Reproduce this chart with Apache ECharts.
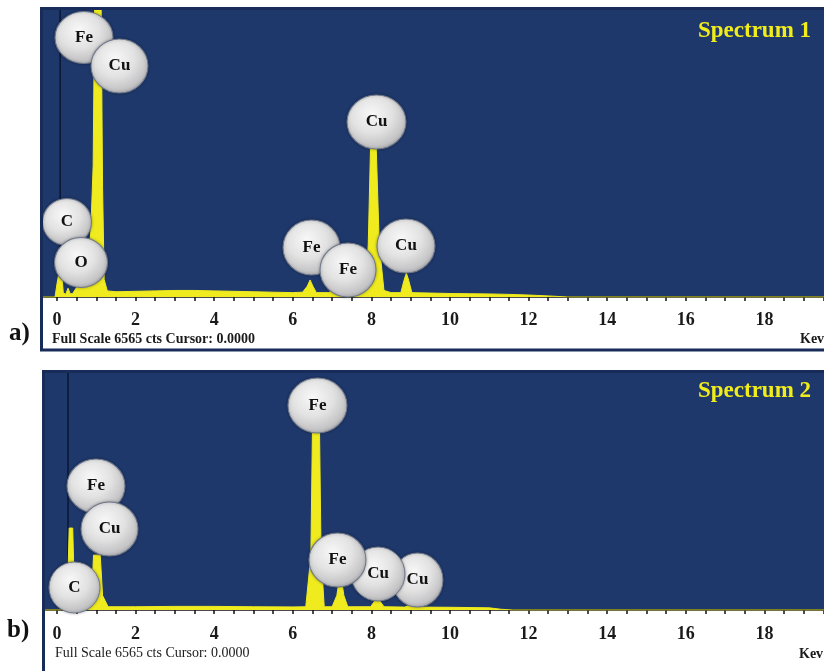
<!DOCTYPE html>
<html>
<head>
<meta charset="utf-8">
<script src="https://cdn.jsdelivr.net/npm/echarts@6/dist/echarts.min.js"></script>
<style>
html,body{margin:0;padding:0;background:#ffffff;}
#chart{width:824px;height:671px;}
</style>
</head>
<body>
<div id="chart"></div>
<script>
// ---------------- DATA ----------------
const keVTickLabels = [0, 2, 4, 6, 8, 10, 12, 14, 16, 18];
const fullScaleCts = 6565;
const panelTitles = ['Spectrum 1', 'Spectrum 2'];
const panelTags = ['a)', 'b)'];
const footerText = 'Full Scale 6565 cts Cursor: 0.0000';
const unitText = 'Kev';

// spectrum 1 : [keV, counts]
const spectrum1 = [
  [-0.36, 0], [-0.05, 0], [0.0, 300], [0.05, 550], [0.12, 550], [0.16, 100],
  [0.22, 60], [0.28, 200], [0.34, 70], [0.4, 80], [0.52, 250], [0.6, 300],
  [0.72, 500], [0.8, 800], [0.86, 1500], [0.92, 3000], [0.96, 7000], [1.12, 7000],
  [1.16, 2500], [1.2, 400], [1.28, 140], [1.5, 120], [2.0, 130], [2.5, 140],
  [3.0, 150], [3.5, 150], [4.0, 140], [4.5, 130], [5.0, 120], [5.5, 110],
  [6.0, 100], [6.25, 110], [6.37, 250], [6.44, 390], [6.51, 250], [6.6, 100],
  [6.9, 100], [7.06, 160], [7.2, 100], [7.7, 110], [7.85, 150], [7.92, 1200],
  [7.98, 3500], [8.12, 3500], [8.2, 1200], [8.32, 150], [8.5, 100], [8.75, 100],
  [8.83, 380], [8.89, 550], [8.95, 380], [9.03, 100], [9.5, 90], [10.0, 80],
  [10.5, 75], [11.0, 70], [11.5, 60], [12.0, 45], [12.5, 25], [13.0, 0], [19.52, 0]
];

// spectrum 2 : [keV, counts]
const spectrum2 = [
  [-0.31, 0], [0.1, 0], [0.18, 60], [0.26, 200], [0.31, 2270], [0.4, 2270],
  [0.45, 200], [0.52, 70], [0.65, 70], [0.76, 90], [0.88, 300], [0.93, 1520],
  [1.1, 1520], [1.16, 400], [1.3, 90], [2.0, 90], [3.0, 100], [4.0, 100],
  [5.0, 90], [6.0, 85], [6.33, 90], [6.46, 1500], [6.5, 5000], [6.68, 5000],
  [6.72, 1500], [6.8, 90], [7.0, 90], [7.12, 400], [7.17, 750], [7.25, 750],
  [7.3, 400], [7.4, 90], [7.98, 90], [8.15, 350], [8.32, 90], [8.85, 80],
  [9.0, 150], [9.12, 80], [10.0, 75], [11.0, 60], [11.3, 20], [11.6, 0], [19.52, 0]
];

// element tags: [element, keV, counts]  (listed in drawing order)
const markers1 = [
  ['C', 0.254, 1716], ['O', 0.611, 789], ['Fe', 0.687, 5936], ['Cu', 1.59, 5284],
  ['Fe', 6.476, 1132], ['Fe', 7.405, 618], ['Cu', 8.13, 4003], ['Cu', 8.88, 1167]
];
const markers2 = [
  ['C', 0.445, 623], ['Fe', 0.992, 3435], ['Cu', 1.336, 2244], ['Fe', 6.628, 5665],
  ['Cu', 9.173, 831], ['Cu', 8.168, 997], ['Fe', 7.137, 1385]
];

// zero-strobe line position (keV)
const strobeKeV = [0.08, 0.28];

// ---------------- STYLE ----------------
const SERIF = '"Liberation Serif", "DejaVu Serif", serif';
const BG = '#1e386b';
const FRAME = '#172c58';
const YELLOW = '#efeb1e';
const markerSizes1 = [[49, 47], [53, 50], [58, 52], [57, 54], [57, 55], [56, 54], [59, 54], [58, 54]];
const markerSizes2 = [[51, 51], [58, 54], [57, 54], [59, 55], [51, 54], [54, 54], [57, 54]];

const minorTicks = [];
for (let v = 0; v <= 19.5; v += 0.5) minorTicks.push(v);

const grids = [
  { left: 43, top: 10, width: 781, height: 287, show: true, backgroundColor: BG, borderWidth: 0 },
  { left: 45, top: 373, width: 779, height: 237, show: true, backgroundColor: BG, borderWidth: 0 }
];
const xMins = [-0.3562, -0.3053];
const labelMargins = [14, 15];

const xAxes = grids.map((g, i) => ({
  type: 'value', gridIndex: i, min: xMins[i], max: 19.517,
  axisLine: { show: true, onZero: false, lineStyle: { color: '#111', width: 1.5 } },
  axisTick: { show: true, customValues: minorTicks, length: 4, lineStyle: { color: '#111', width: 1.5 } },
  axisLabel: { show: true, customValues: keVTickLabels, margin: labelMargins[i], fontFamily: SERIF,
               fontWeight: 'bold', fontSize: 18, color: '#1a1a1a' },
  splitLine: { show: false }
}));
const yAxes = grids.map((g, i) => ({
  type: 'value', gridIndex: i, min: 0, max: fullScaleCts, show: false,
  splitLine: { show: false }
}));

function strobeSeries(i) {
  return {
    type: 'line', xAxisIndex: i, yAxisIndex: i, silent: true, symbol: 'none', z: 1,
    data: [[strobeKeV[i], 0], [strobeKeV[i], fullScaleCts]],
    lineStyle: { color: '#0b1631', width: 1.5 }
  };
}
function spectrumSeries(i, data) {
  return {
    type: 'line', xAxisIndex: i, yAxisIndex: i, silent: true, symbol: 'none', z: 2,
    clip: true, data: data,
    lineStyle: { color: YELLOW, width: 1 },
    areaStyle: { color: YELLOW, opacity: 1 }
  };
}
function markerSeries(i, markers, sizes) {
  return {
    type: 'scatter', xAxisIndex: i, yAxisIndex: i, silent: true, z: 5, clip: false,
    data: markers.map((m, k) => ({
      name: m[0], value: [m[1], m[2]], symbolSize: sizes[k]
    })),
    symbol: 'circle',
    itemStyle: {
      opacity: 1,
      color: { type: 'radial', x: 0.42, y: 0.36, r: 0.68,
        colorStops: [{ offset: 0, color: '#f8f8f8' }, { offset: 0.5, color: '#e2e2e2' }, { offset: 0.85, color: '#c4c4c6' }, { offset: 1, color: '#adaeb2' }] },
      borderColor: '#6f788c', borderWidth: 1,
      shadowColor: 'rgba(0,0,0,0.3)', shadowBlur: 3
    },
    label: { show: true, position: 'inside', formatter: '{b}', fontFamily: SERIF, fontWeight: 'bold',
             fontSize: 17, color: '#111111' },
    emphasis: { disabled: true }
  };
}

const graphics = [
  // frames
  { type: 'rect', z: 100, silent: true, shape: { x: 41.5, y: 8.5, width: 800, height: 341.5 },
    style: { fill: 'transparent', stroke: FRAME, lineWidth: 3 } },
  { type: 'rect', z: 100, silent: true, shape: { x: 43.5, y: 371.5, width: 800, height: 320 },
    style: { fill: 'transparent', stroke: FRAME, lineWidth: 3 } },
  // titles
  { type: 'text', z: 110, left: 698, top: 20, silent: true,
    style: { text: panelTitles[0], fill: '#f1ec1c', font: 'bold 23px ' + SERIF } },
  { type: 'text', z: 110, left: 698, top: 380, silent: true,
    style: { text: panelTitles[1], fill: '#f1ec1c', font: 'bold 23px ' + SERIF } },
  // panel tags
  { type: 'text', z: 110, left: 9, top: 321, silent: true,
    style: { text: panelTags[0], fill: '#111', font: 'bold 25px ' + SERIF } },
  { type: 'text', z: 110, left: 7, top: 618, silent: true,
    style: { text: panelTags[1], fill: '#111', font: 'bold 25px ' + SERIF } },
  // footers
  { type: 'text', z: 110, left: 52, top: 332, silent: true,
    style: { text: footerText, fill: '#1a1a1a', font: 'bold 14px ' + SERIF } },
  { type: 'text', z: 110, left: 55, top: 646, silent: true,
    style: { text: footerText, fill: '#1a1a1a', font: '14px ' + SERIF } },
  { type: 'text', z: 110, left: 800, top: 332, silent: true,
    style: { text: unitText, fill: '#1a1a1a', font: 'bold 14px ' + SERIF } },
  { type: 'text', z: 110, left: 799, top: 647, silent: true,
    style: { text: unitText, fill: '#1a1a1a', font: 'bold 14px ' + SERIF } }
];

const chart = echarts.init(document.getElementById('chart'), null, { renderer: 'canvas' });
chart.setOption({
  animation: false,
  backgroundColor: '#ffffff',
  grid: grids,
  xAxis: xAxes,
  yAxis: yAxes,
  series: [
    strobeSeries(0), spectrumSeries(0, spectrum1), markerSeries(0, markers1, markerSizes1),
    strobeSeries(1), spectrumSeries(1, spectrum2), markerSeries(1, markers2, markerSizes2)
  ],
  graphic: graphics
});
</script>
</body>
</html>
